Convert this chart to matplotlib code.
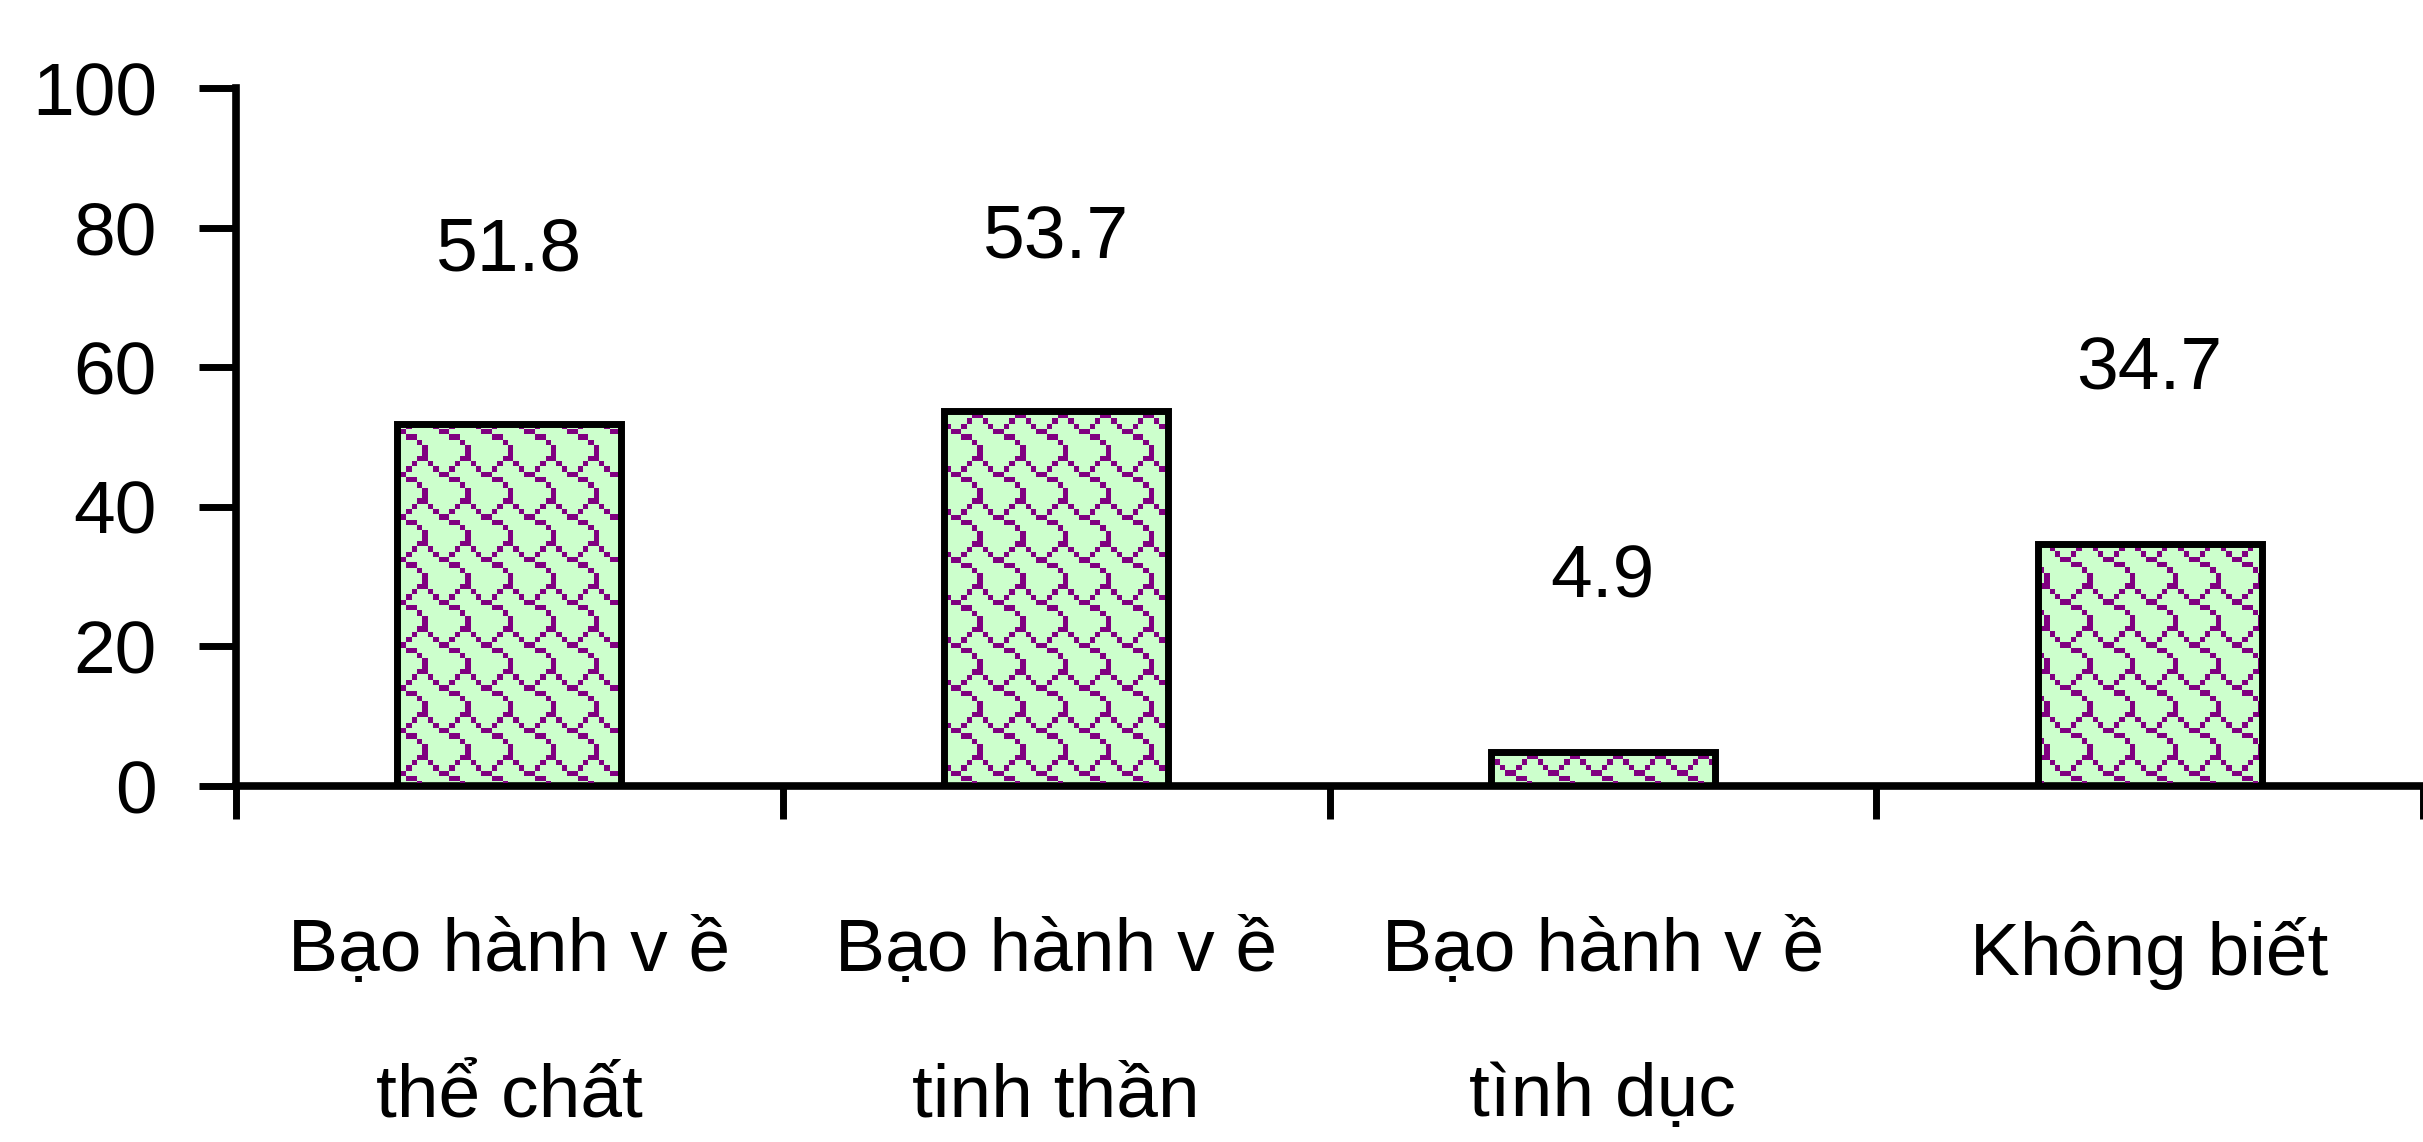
import numpy as np
import matplotlib
matplotlib.use("Agg")
import matplotlib.pyplot as plt

plt.rcParams['font.family'] = ['Liberation Sans', 'DejaVu Sans']

categories = ["Bạo hành v ề\nthể chất", "Bạo hành v ề\ntinh thần",
              "Bạo hành v ề\ntình dục", "Không biết"]
values = [51.8, 53.7, 4.9, 34.7]
yticks = [0, 20, 40, 60, 80, 100]

W, H, dpi = 2423, 1142, 100
fig = plt.figure(figsize=(W / dpi, H / dpi), dpi=dpi)
left, right = 236 / W, 1.0
bottom, top = 1 - 786 / H, 1 - 88 / H
ax = fig.add_axes([left, bottom, right - left, top - bottom])

ax.set_xlim(0, len(values))
ax.set_ylim(0, 100)

x = np.arange(len(values)) + 0.5
bw = 0.41
bars = ax.bar(x, values, width=bw, color='#CCFFCC', edgecolor='none', zorder=2)

# scale-like hatch texture (8x8 tile)
tile = np.zeros((8, 8), dtype=bool)
for r, cols in enumerate([[6, 7], [0, 1], [2], [3], [3], [2, 3], [1, 4], [0, 5]]):
    for c in cols:
        tile[r, c] = True
axw_px = (right - left) * W
axh_px = (top - bottom) * H
cell = 5.333
nx = int(np.ceil(axw_px / cell)) + 1
ny = int(np.ceil(axh_px / cell)) + 1
big = np.tile(tile, (ny // 8 + 1, nx // 8 + 1))[:ny, :nx]
rgba = np.zeros((ny, nx, 4))
rgba[big] = [0x80 / 255, 0, 0x80 / 255, 1]
xw = nx * cell / axw_px * len(values)
yh = ny * cell / axh_px * 100
for b in bars:
    im = ax.imshow(rgba, extent=(0, xw, 100 - yh, 100), origin='upper',
                   interpolation='nearest', aspect='auto', zorder=3)
    im.set_clip_path(b)
ax.set_xlim(0, len(values))
ax.set_ylim(0, 100)

ax.bar(x, values, width=bw, fill=False, edgecolor='black', linewidth=5, zorder=4)

for xi, v in zip(x, values):
    ax.annotate(f"{v}", (xi, v), xytext=(0, 125), textcoords='offset points',
                ha='center', va='center', fontsize=54)

for s in ['top', 'right']:
    ax.spines[s].set_visible(False)
for s in ['left', 'bottom']:
    ax.spines[s].set_linewidth(5.5)

ax.set_xticks(range(len(values) + 1))
ax.set_xticklabels([])
ax.tick_params(axis='x', which='major', direction='out', length=24, width=5)
ax.set_xticks(x, minor=True)
ax.set_xticklabels(categories, minor=True, fontsize=54, linespacing=2.42)
ax.tick_params(axis='x', which='minor', length=0, pad=94)

ax.set_yticks(yticks)
ax.set_yticklabels([str(t) for t in yticks])
ax.tick_params(axis='y', direction='out', length=27, width=5, pad=30, labelsize=54)

fig.savefig("out.png", dpi=dpi)
